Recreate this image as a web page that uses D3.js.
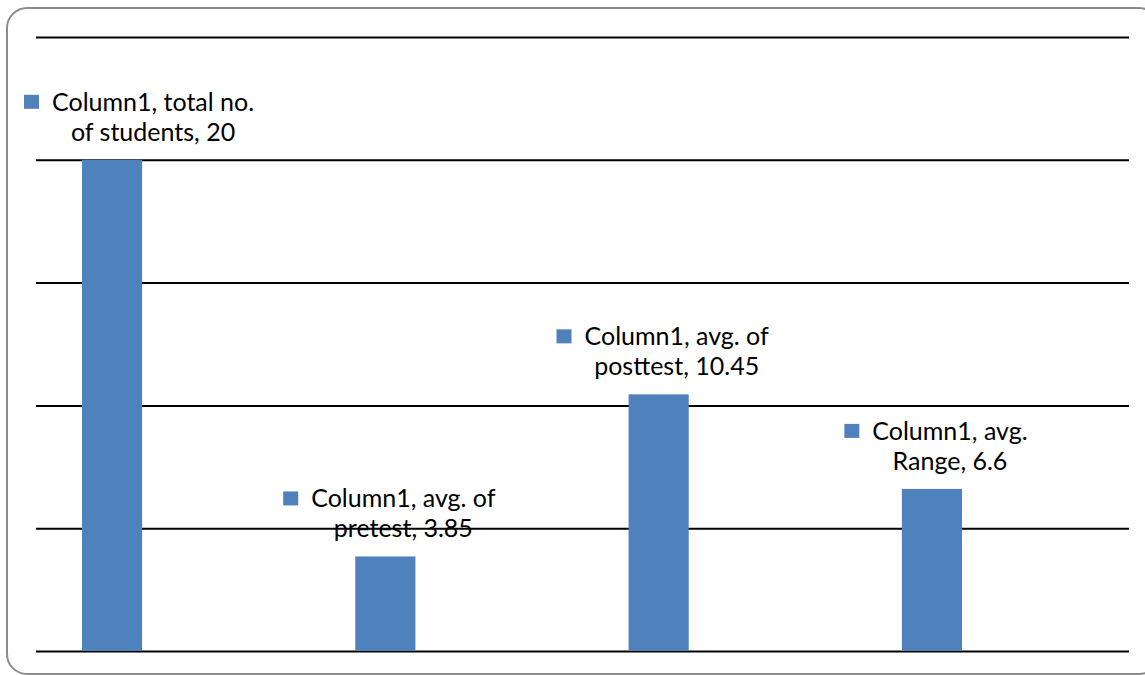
<!DOCTYPE html>
<html>
<head>
<meta charset="utf-8">
<script src="https://cdn.jsdelivr.net/npm/d3@7.9.0/dist/d3.min.js"></script>
<style>
  html, body { margin: 0; padding: 0; background: #fff; }
  svg { display: block; }
  .grid line { stroke: #000; stroke-width: 2; }
  .grid .domain { display: none; }
  .lbl text { font-family: Lato, "Open Sans", sans-serif; font-size: 25px; fill: #000; }
</style>
</head>
<body>
<svg id="chart" width="1145" height="675"></svg>
<script>
// chart data
const categories = ['total no. of students', 'avg. of pretest', 'avg. of posttest', 'avg. Range'];
const values = [20, 3.85, 10.45, 6.6];
const seriesName = 'Column1';
// label text as Excel wrapped it
const labelLines = [
  ['Column1, total no.', 'of students, 20'],
  ['Column1, avg. of', 'pretest, 3.85'],
  ['Column1, avg. of', 'posttest, 10.45'],
  ['Column1, avg.', 'Range, 6.6']
];
const gridTicks = [0, 5, 10, 15, 20, 25];

const W = 1145, H = 675;
const barColor = '#4F81BD';

const svg = d3.select('#chart');

// frame with rounded corners (right side runs off the picture)
svg.append('rect')
  .attr('x', 7).attr('y', 8)
  .attr('width', 1152).attr('height', 666)
  .attr('rx', 20).attr('ry', 20)
  .attr('fill', '#fff')
  .attr('stroke', '#8c8c8c')
  .attr('stroke-width', 2);

const y = d3.scaleLinear().domain([0, 25]).range([651, 37]);
const x = d3.scaleBand()
  .domain(categories)
  .range([-24.6, 1068.6])
  .paddingInner(0.78)
  .paddingOuter(0.39);

const gridLeft = 36, gridRight = 1129;

svg.append('g')
  .attr('class', 'grid')
  .attr('transform', `translate(${gridLeft},0)`)
  .call(d3.axisLeft(y).tickValues(gridTicks).tickSize(-(gridRight - gridLeft)).tickFormat(''))
  .call(g => g.selectAll('.tick line').attr('x1', 0));

svg.append('g')
  .selectAll('rect')
  .data(values)
  .join('rect')
  .attr('x', (d, i) => x(categories[i]))
  .attr('y', d => y(d))
  .attr('width', x.bandwidth())
  .attr('height', d => y(0) - y(d))
  .attr('fill', barColor);

// data labels with legend key
const keySize = 15, keyGap = 13, lineH = 30;
values.forEach((v, i) => {
  const g = svg.append('g').attr('class', 'lbl');
  const lines = labelLines[i];
  const base2 = y(v) - 19;
  const base1 = base2 - lineH;
  const texts = lines.map((t, k) => g.append('text')
    .attr('y', k === 0 ? base1 : base2)
    .attr('text-anchor', 'middle')
    .text(t));
  const maxW = d3.max(texts, t => t.node().getComputedTextLength());
  const cx = x(categories[i]) + x.bandwidth() / 2 + 4;
  let left = cx - (keySize + keyGap + maxW) / 2;
  if (left < 24) left = 24;
  const tx = left + keySize + keyGap + maxW / 2;
  texts.forEach(t => t.attr('x', tx));
  const w1 = texts[0].node().getComputedTextLength();
  g.append('rect')
    .attr('x', tx - w1 / 2 - keyGap - keySize)
    .attr('y', base1 - 16)
    .attr('width', keySize).attr('height', keySize - 1)
    .attr('fill', barColor);
});
</script>
</body>
</html>
